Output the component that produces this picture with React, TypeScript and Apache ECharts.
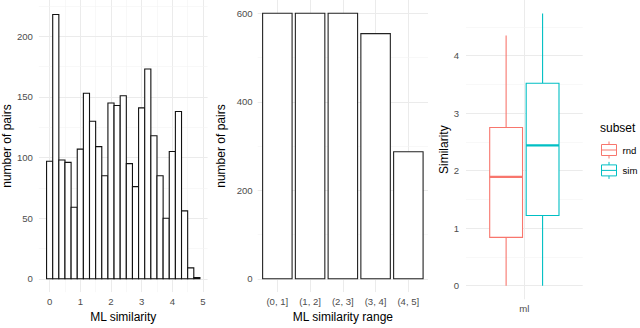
import React, { useEffect, useRef } from 'react';
import * as echarts from 'echarts';

// ---- data ----
const binCenters = [0, 0.2, 0.4, 0.6, 0.8, 1.0, 1.2, 1.4, 1.6, 1.8, 2.0, 2.2, 2.4, 2.6, 2.8, 3.0, 3.2, 3.4, 3.6, 3.8, 4.0, 4.2, 4.4, 4.6, 4.8];
const binCounts = [97, 218, 98, 96, 59, 107, 153, 130, 109, 85, 145, 143, 151, 95, 76, 141, 173, 118, 85, 50, 105, 138, 56, 9, 1];
const histXTicks = [0, 1, 2, 3, 4, 5];
const histXMinor = [0.5, 1.5, 2.5, 3.5, 4.5];
const histYTicks = [0, 50, 100, 150, 200];
const histYMinor = [25, 75, 125, 175, 225];

const rangeCategories = ['(0, 1]', '(1, 2]', '(2, 3]', '(3, 4]', '(4, 5]'];
const rangeCounts = [600, 600, 600, 554, 287];
const rangeYTicks = [0, 200, 400, 600];
const rangeYMinor = [100, 300, 500];

const groupLabel = 'ml';
const subsets = ['rnd', 'sim'];
const subsetColors = ['#F8766D', '#00BFC4'];
// [min, q1, median, q3, max]
const rndStats = [0, 0.84, 1.89, 2.75, 4.35];
const simStats = [0, 1.22, 2.44, 3.52, 4.73];
const simYTicks = [0, 1, 2, 3, 4];
const simYMinor = [0.5, 1.5, 2.5, 3.5, 4.5];

const FONT = 'Liberation Sans, Arial, sans-serif';
const TICK_COLOR = '#4D4D4D';
const MAJOR = '#EBEBEB';
const MINOR = '#F4F4F4';

function gridLineData(xMaj: number[], xMin: number[], yMaj: number[], yMin: number[]) {
  const d: any[] = [];
  xMaj.forEach((v) => d.push({ xAxis: v, lineStyle: { color: MAJOR, width: 1, type: 'solid' } }));
  xMin.forEach((v) => d.push({ xAxis: v, lineStyle: { color: MINOR, width: 0.6, type: 'solid' } }));
  yMaj.forEach((v) => d.push({ yAxis: v, lineStyle: { color: MAJOR, width: 1, type: 'solid' } }));
  yMin.forEach((v) => d.push({ yAxis: v, lineStyle: { color: MINOR, width: 0.6, type: 'solid' } }));
  return d;
}

function gridSeries(idx: number, data: any[]) {
  return {
    type: 'line',
    xAxisIndex: idx,
    yAxisIndex: idx,
    data: [],
    silent: true,
    z: 1,
    markLine: {
      silent: true,
      z: 1,
      symbol: ['none', 'none'],
      label: { show: false },
      emphasis: { disabled: true },
      animation: false,
      data,
    },
  };
}

const baseAxis = {
  axisLine: { show: false },
  axisTick: { show: false },
  splitLine: { show: false },
  nameTextStyle: { color: '#000', fontSize: 12, fontFamily: FONT },
};

export default function App() {
  const ref = useRef<HTMLDivElement>(null);
  useEffect(() => {
    if (!ref.current) return;
    const chart = echarts.init(ref.current, null, { renderer: 'svg' });
    const boxW = 0.3375;
    const boxPos = [0.8125, 1.1875];
    const boxRender = (color: string) => (params: any, api: any) => {
      const x = api.value(0);
      const pMin = api.coord([x, api.value(1)]);
      const pQ1 = api.coord([x - boxW / 2, api.value(2)]);
      const pMed = api.coord([x, api.value(3)]);
      const pQ3 = api.coord([x + boxW / 2, api.value(4)]);
      const pMax = api.coord([x, api.value(5)]);
      const xl = pQ1[0];
      const xr = pQ3[0];
      const xc = pMed[0];
      return {
        type: 'group',
        children: [
          { type: 'line', shape: { x1: xc, y1: pQ3[1], x2: xc, y2: pMax[1] }, style: { stroke: color, lineWidth: 1.1 } },
          { type: 'line', shape: { x1: xc, y1: pQ1[1], x2: xc, y2: pMin[1] }, style: { stroke: color, lineWidth: 1.1 } },
          { type: 'rect', shape: { x: xl, y: pQ3[1], width: xr - xl, height: pQ1[1] - pQ3[1] }, style: { fill: '#fff', stroke: color, lineWidth: 1.1 } },
          { type: 'line', shape: { x1: xl, y1: pMed[1], x2: xr, y2: pMed[1] }, style: { stroke: color, lineWidth: 2.2 } },
        ],
      };
    };
    const boxIcon = 'path://M7.5,0 V3 M0,3 H15 V14 H0 Z M0,8.5 H15 M7.5,14 V17';

    const option: any = {
      animation: false,
      textStyle: { fontFamily: FONT },
      grid: [
        { left: 38.2, top: 0, width: 169.4, height: 299.3 },
        { left: 257.7, top: 0, width: 170.3, height: 299.3 },
        { left: 466, top: 0, width: 116.7, height: 299.3 },
      ],
      xAxis: [
        {
          ...baseAxis, type: 'value', gridIndex: 0, min: -0.35, max: 5.15,
          name: 'ML similarity', nameLocation: 'middle', nameGap: 16,
          axisLabel: { customValues: histXTicks, color: TICK_COLOR, fontSize: 9.6, margin: 4 },
        },
        {
          ...baseAxis, type: 'value', gridIndex: 1, min: 0.4, max: 5.6,
          name: 'ML similarity range', nameLocation: 'middle', nameGap: 16,
          axisLabel: {
            customValues: rangeCategories.map((_, i) => i + 1),
            formatter: (v: number) => rangeCategories[Math.round(v) - 1] ?? '',
            color: TICK_COLOR, fontSize: 9.6, margin: 4,
          },
        },
        {
          ...baseAxis, type: 'value', gridIndex: 2, min: 0.4, max: 1.6,
          axisLabel: { customValues: [1], formatter: () => groupLabel, color: TICK_COLOR, fontSize: 9.6, margin: 4 },
        },
      ],
      yAxis: [
        {
          ...baseAxis, type: 'value', gridIndex: 0, min: -10.95, max: 229.95,
          name: 'number of pairs', nameLocation: 'middle', nameGap: 25,
          axisLabel: { customValues: histYTicks, color: TICK_COLOR, fontSize: 9.6, margin: 6 },
        },
        {
          ...baseAxis, type: 'value', gridIndex: 1, min: -30, max: 630,
          name: 'number of pairs', nameLocation: 'middle', nameGap: 31,
          axisLabel: { customValues: rangeYTicks, color: TICK_COLOR, fontSize: 9.6, margin: 5 },
        },
        {
          ...baseAxis, type: 'value', gridIndex: 2, min: -0.2365, max: 4.9665,
          name: 'Similarity', nameLocation: 'middle', nameGap: 15,
          axisLabel: { customValues: simYTicks, color: TICK_COLOR, fontSize: 9.6, margin: 7 },
        },
      ],
      legend: {
        orient: 'vertical',
        left: 601,
        top: 141,
        padding: 0,
        itemWidth: 15,
        itemHeight: 17,
        itemGap: 2.4,
        selectedMode: false,
        textStyle: { fontSize: 9.6, color: '#000', fontFamily: FONT, padding: [0, 0, 0, 1] },
        data: subsets.map((s, i) => ({
          name: s,
          icon: boxIcon,
          itemStyle: { color: 'rgba(0,0,0,0)', borderColor: subsetColors[i], borderWidth: 1 },
        })),
      },
      graphic: [
        {
          type: 'text', left: 600, top: 122,
          style: { text: 'subset', fontSize: 12, fill: '#000', fontFamily: FONT },
        },
      ],
      series: [
        gridSeries(0, gridLineData(histXTicks, histXMinor, histYTicks, histYMinor)),
        {
          type: 'custom', name: 'hist', xAxisIndex: 0, yAxisIndex: 0, z: 3,
          data: binCenters.map((c, i) => [c, binCounts[i]]),
          encode: { x: 0, y: 1 },
          renderItem: (params: any, api: any) => {
            const x = api.value(0);
            const p0 = api.coord([x - 0.1, 0]);
            const p1 = api.coord([x + 0.1, api.value(1)]);
            return {
              type: 'rect',
              shape: { x: p0[0], y: p1[1], width: p1[0] - p0[0], height: p0[1] - p1[1] },
              style: { fill: '#fff', stroke: '#111', lineWidth: 1.1 },
            };
          },
        },
        gridSeries(1, gridLineData(rangeCategories.map((_, i) => i + 1), [], rangeYTicks, rangeYMinor)),
        {
          type: 'custom', name: 'range', xAxisIndex: 1, yAxisIndex: 1, z: 3,
          data: rangeCounts.map((v, i) => [i + 1, v]),
          encode: { x: 0, y: 1 },
          renderItem: (params: any, api: any) => {
            const x = api.value(0);
            const p0 = api.coord([x - 0.45, 0]);
            const p1 = api.coord([x + 0.45, api.value(1)]);
            return {
              type: 'rect',
              shape: { x: p0[0], y: p1[1], width: p1[0] - p0[0], height: p0[1] - p1[1] },
              style: { fill: '#fff', stroke: '#222', lineWidth: 1.1 },
            };
          },
        },
        gridSeries(2, gridLineData([1], [], simYTicks, simYMinor)),
        {
          type: 'custom', name: subsets[0], xAxisIndex: 2, yAxisIndex: 2, z: 3,
          itemStyle: { color: subsetColors[0] },
          data: [[boxPos[0], ...rndStats]],
          encode: { x: 0, y: [1, 2, 3, 4, 5] },
          renderItem: boxRender(subsetColors[0]),
        },
        {
          type: 'custom', name: subsets[1], xAxisIndex: 2, yAxisIndex: 2, z: 3,
          itemStyle: { color: subsetColors[1] },
          data: [[boxPos[1], ...simStats]],
          encode: { x: 0, y: [1, 2, 3, 4, 5] },
          renderItem: boxRender(subsetColors[1]),
        },
      ],
    };
    chart.setOption(option);
    return () => chart.dispose();
  }, []);
  return (
    <div
      ref={ref}
      style={{ position: 'fixed', left: 0, top: 0, width: 640, height: 328, background: '#fff' }}
    />
  );
}
